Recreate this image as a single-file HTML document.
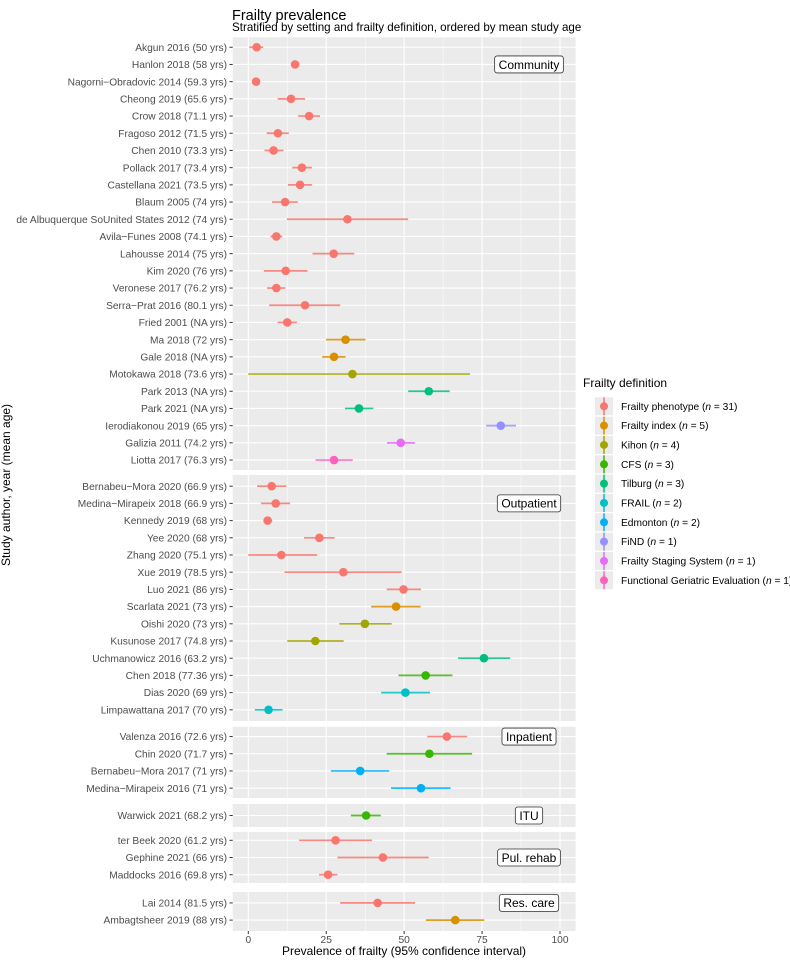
<!DOCTYPE html>
<html><head><meta charset="utf-8">
<style>
body{margin:0;background:#fff;font-family:"Liberation Sans",Arial,sans-serif;}
svg text{font-family:"Liberation Sans",Arial,sans-serif;}
</style></head>
<body>
<svg id="chart" width="790" height="961" viewBox="0 0 790 961" xmlns="http://www.w3.org/2000/svg">
<text x="232" y="20" font-size="14.5" fill="#000">Frailty prevalence</text>
<text x="232" y="31" font-size="11.6" fill="#000">Stratified by setting and frailty definition, ordered by mean study age</text>
<text transform="translate(10,485) rotate(-90)" text-anchor="middle" font-size="12" fill="#000">Study author, year (mean age)</text>
<text x="404" y="955" text-anchor="middle" font-size="12" fill="#000">Prevalence of frailty (95% confidence interval)</text>
<g id="panels"></g>
<g id="legend"></g>
</svg>
<script>
const panelNames=["Community","Outpatient","Inpatient","ITU","Pul. rehab","Res. care"];
const panelTop=[37.3,475,726.7,804,832,892];
const panelBottom=[470,721,798,827,883,931];
const studies=["Akgun 2016 (50 yrs)","Hanlon 2018 (58 yrs)","Nagorni\u2212Obradovic 2014 (59.3 yrs)","Cheong 2019 (65.6 yrs)","Crow 2018 (71.1 yrs)","Fragoso 2012 (71.5 yrs)","Chen 2010 (73.3 yrs)","Pollack 2017 (73.4 yrs)","Castellana 2021 (73.5 yrs)","Blaum 2005 (74 yrs)","de Albuquerque SoUnited States 2012 (74 yrs)","Avila\u2212Funes 2008 (74.1 yrs)","Lahousse 2014 (75 yrs)","Kim 2020 (76 yrs)","Veronese 2017 (76.2 yrs)","Serra\u2212Prat 2016 (80.1 yrs)","Fried 2001 (NA yrs)","Ma 2018 (72 yrs)","Gale 2018 (NA yrs)","Motokawa 2018 (73.6 yrs)","Park 2013 (NA yrs)","Park 2021 (NA yrs)","Ierodiakonou 2019 (65 yrs)","Galizia 2011 (74.2 yrs)","Liotta 2017 (76.3 yrs)",
"Bernabeu\u2212Mora 2020 (66.9 yrs)","Medina\u2212Mirapeix 2018 (66.9 yrs)","Kennedy 2019 (68 yrs)","Yee 2020 (68 yrs)","Zhang 2020 (75.1 yrs)","Xue 2019 (78.5 yrs)","Luo 2021 (86 yrs)","Scarlata 2021 (73 yrs)","Oishi 2020 (73 yrs)","Kusunose 2017 (74.8 yrs)","Uchmanowicz 2016 (63.2 yrs)","Chen 2018 (77.36 yrs)","Dias 2020 (69 yrs)","Limpawattana 2017 (70 yrs)",
"Valenza 2016 (72.6 yrs)","Chin 2020 (71.7 yrs)","Bernabeu\u2212Mora 2017 (71 yrs)","Medina\u2212Mirapeix 2016 (71 yrs)",
"Warwick 2021 (68.2 yrs)",
"ter Beek 2020 (61.2 yrs)","Gephine 2021 (66 yrs)","Maddocks 2016 (69.8 yrs)",
"Lai 2014 (81.5 yrs)","Ambagtsheer 2019 (88 yrs)"];
const studyPanel=[0,0,0,0,0,0,0,0,0,0,0,0,0,0,0,0,0,0,0,0,0,0,0,0,0,1,1,1,1,1,1,1,1,1,1,1,1,1,1,2,2,2,2,3,4,4,4,5,5];
const studyDef=[0,0,0,0,0,0,0,0,0,0,0,0,0,0,0,0,0,1,1,2,4,4,7,8,9,0,0,0,0,0,0,0,1,2,2,4,3,5,5,0,3,6,6,3,0,0,0,0,1];
const prevalence=[2.7,15.0,2.5,13.7,19.5,9.5,8.1,17.2,16.6,11.8,31.8,9.0,27.4,12.0,9.0,18.2,12.5,31.2,27.5,33.4,57.9,35.5,81.0,48.9,27.5,
7.5,8.8,6.2,22.8,10.6,30.5,49.8,47.4,37.4,21.5,75.6,56.9,50.4,6.5,
63.7,58.1,35.9,55.4,37.8,28.0,43.2,25.6,41.5,66.4];
const ciLow=[0.3,14.5,2.0,9.4,16.0,5.9,5.2,14.1,12.7,7.6,12.4,7.1,20.6,5.0,6.0,6.7,9.4,24.9,23.7,0,51.3,31.0,76.3,44.5,21.6,
2.8,4.1,5.1,17.9,0,11.6,44.4,39.4,29.2,12.5,67.3,48.2,42.6,2.1,
57.4,44.4,26.5,45.8,32.9,16.3,28.6,22.7,29.5,57.0];
const ciHigh=[4.8,15.5,3.0,18.2,23.0,13.0,11.3,20.4,20.4,15.9,51.3,10.9,34.0,19.0,11.9,29.5,15.6,37.6,31.2,71.1,64.6,40.1,85.9,53.4,33.5,
12.2,13.4,7.7,27.7,22.1,49.2,55.4,55.3,46.0,30.6,84.0,65.5,58.3,11.0,
70.2,71.8,45.2,64.9,42.5,39.7,57.9,28.6,53.5,75.7];
const defNames=["Frailty phenotype","Frailty index","Kihon","CFS","Tilburg","FRAIL","Edmonton","FiND","Frailty Staging System","Functional Geriatric Evaluation"];
const defCounts=[31,5,4,3,3,2,2,1,1,1];
const defColors=["#F8766D","#D89000","#A3A500","#39B600","#00BF7D","#00BFC4","#00B0F6","#9590FF","#E76BF3","#FF62BC"];
const xTicks=[0,25,50,75,100];

const NS="http://www.w3.org/2000/svg";
const PL=232.7,PR=575.6;
function xs(v){return 248.3+v*3.117;}
function mk(tag,attrs,parent){const e=document.createElementNS(NS,tag);for(const k in attrs)e.setAttribute(k,attrs[k]);parent.appendChild(e);return e;}
const P=document.getElementById('panels');
const step=17.2;
function rowY(i){
  const p=studyPanel[i];
  const idx=studyPanel.slice(0,i).filter(q=>q===p).length;
  const n=studyPanel.filter(q=>q===p).length;
  const pad=(panelBottom[p]-panelTop[p]-(n-1)*step)/2;
  return panelTop[p]+pad+idx*step;
}
panelNames.forEach((nm,p)=>{
  const g=mk('g',{},P);
  
  
  mk('rect',{x:PL,y:panelTop[p],width:PR-PL,height:panelBottom[p]-panelTop[p],fill:'#EBEBEB'},g);
  [12.5,37.5,62.5,87.5].forEach(v=>mk('line',{x1:xs(v),x2:xs(v),y1:panelTop[p],y2:panelBottom[p],stroke:'#fff','stroke-width':0.5},g));
  xTicks.forEach(v=>mk('line',{x1:xs(v),x2:xs(v),y1:panelTop[p],y2:panelBottom[p],stroke:'#fff','stroke-width':1.1},g));
});
studies.forEach((s,i)=>{
  const y=rowY(i);
  mk('line',{x1:PL,x2:PR,y1:y,y2:y,stroke:'#fff','stroke-width':1.1},P);
  mk('line',{x1:229.5,x2:PL,y1:y,y2:y,stroke:'#333','stroke-width':1},P);
  const t=mk('text',{x:227,y:y+3.6,'text-anchor':'end','font-size':'10.2',fill:'#4D4D4D'},P);
  t.textContent=s;
  
  
});
panelNames.forEach((nm,p)=>{
  const firstY=rowY(studyPanel.indexOf(p));
  const cy = (p===0||p===1||p===4)? firstY+17.2 : firstY;
  const g=mk('g',{},P);
  
  
  const r=mk('rect',{x:0,y:cy-8.5,height:17,rx:2.5,fill:'#fff',stroke:'#333','stroke-width':0.8},g);
  const t=mk('text',{x:529,y:cy+4.3,'text-anchor':'middle','font-size':'12',fill:'#000'},g);
  t.textContent=nm;
  const w=t.getComputedTextLength()+8;
  r.setAttribute('x',529-w/2);
  r.setAttribute('width',w);
});
studies.forEach((s,i)=>{
  const y=rowY(i),c=defColors[studyDef[i]];
  const l=mk('line',{x1:xs(ciLow[i]),x2:xs(ciHigh[i]),y1:y,y2:y,stroke:c,'stroke-width':1.7,'stroke-opacity':0.85},P);
  
  
  const pt=mk('circle',{cx:xs(prevalence[i]),cy:y,r:4.3,fill:c},P);
  
  
});
xTicks.forEach(v=>{
  mk('line',{x1:xs(v),x2:xs(v),y1:931,y2:934,stroke:'#333','stroke-width':1},P);
  const t=mk('text',{x:xs(v),y:943,'text-anchor':'middle','font-size':'10.2',fill:'#4D4D4D'},P);
  t.textContent=v;
  
  
});
const L=document.getElementById('legend');
const lt=mk('text',{x:583,y:387,'font-size':'12',fill:'#000'},L);
lt.textContent='Frailty definition';


defNames.forEach((d,k)=>{
  const y=406.3+k*19.33;
  const g=mk('g',{},L);
  
  
  mk('rect',{x:595,y:y-9,width:18,height:18,fill:'#EBEBEB'},g);
  mk('line',{x1:604,x2:604,y1:y-9,y2:y+9,stroke:defColors[k],'stroke-width':1.5},g);
  mk('circle',{cx:604,cy:y,r:4,fill:defColors[k]},g);
  const t=mk('text',{x:621,y:y+3.6,'font-size':'10.2',fill:'#000'},g);
  t.innerHTML=d+' (<tspan font-style="italic">n</tspan> = '+defCounts[k]+')';
});
</script>
</body></html>
